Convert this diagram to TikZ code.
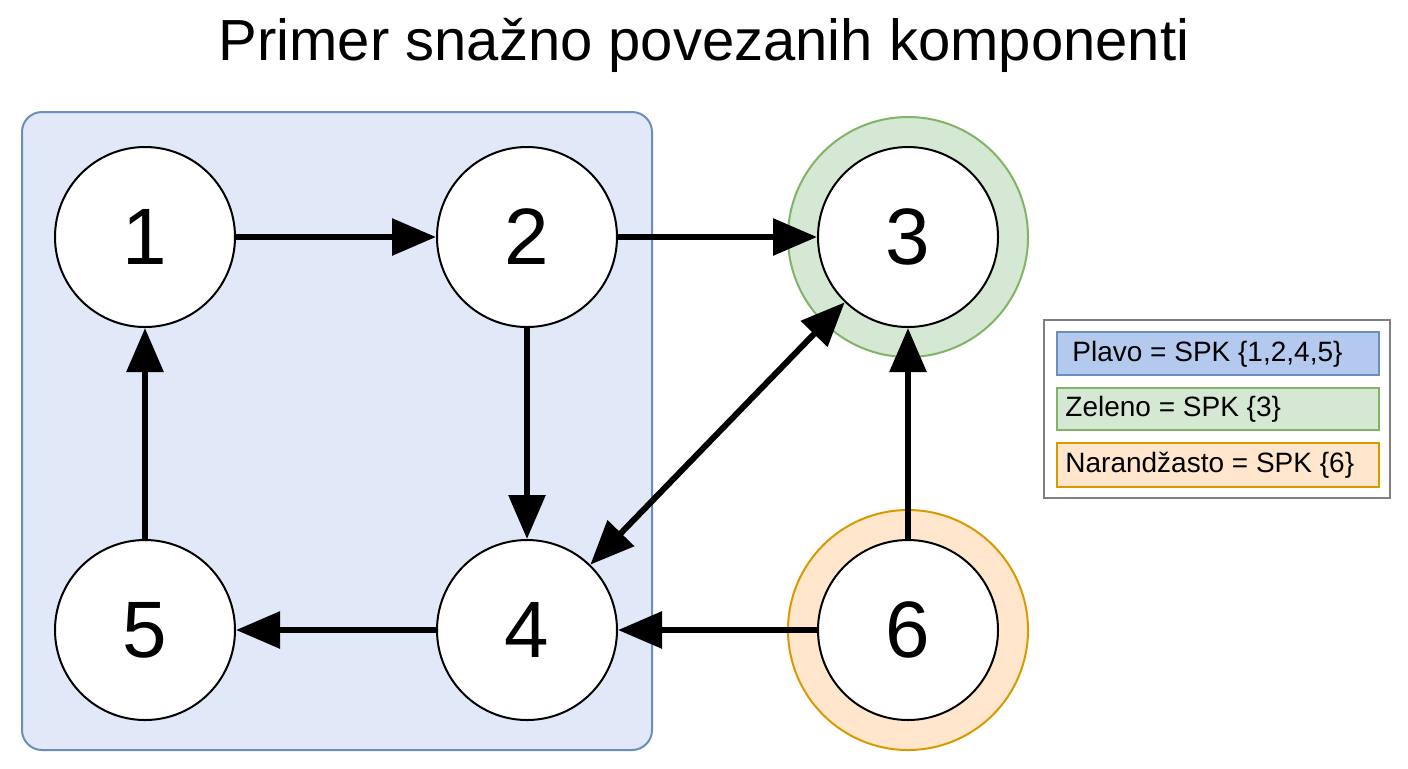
\documentclass[tikz,border=0pt]{standalone}
\usepackage{fontspec}
\setmainfont{Liberation Sans}
\usetikzlibrary{arrows.meta}
\definecolor{bfill}{HTML}{E1E9F8}
\definecolor{bdraw}{HTML}{6C8EBF}
\definecolor{gfill}{HTML}{D5E8D4}
\definecolor{gdraw}{HTML}{82B366}
\definecolor{ofill}{HTML}{FFE6CC}
\definecolor{odraw}{HTML}{D79B00}
\definecolor{lbfill}{HTML}{B3CAEE}
\begin{document}
\begin{tikzpicture}[x=0.5pt,y=-0.5pt,
  v/.style={circle,draw=black,line width=1pt,fill=white,minimum size=90pt,inner sep=0pt,font=\fontsize{40}{40}\selectfont},
  ring/.style={circle,line width=1pt,minimum size=120pt,inner sep=0pt},
  e/.style={line width=3pt,-{Triangle[length=22pt,width=18pt]}},
  lg/.style={draw,line width=0.6pt,minimum height=21pt,inner sep=0pt,font=\fontsize{14}{14}\selectfont}]
\useasboundingbox (0,0) rectangle (1408,768);
\fill[white] (0,0) rectangle (1408,768);
\node[font=\fontsize{29}{29}\selectfont] (title) at (704,45) {Primer snažno povezanih komponenti};
\draw[bdraw,fill=bfill,line width=1pt,rounded corners=10pt] (22,112) rectangle (652,750);
\node[ring,draw=gdraw,fill=gfill] (g3) at (908,237) {};
\node[ring,draw=odraw,fill=ofill] (o6) at (908,630) {};
\node[v] (n1) at (145,237) {1};
\node[v] (n2) at (527,237) {2};
\node[v] (n3) at (908,237) {3};
\node[v] (n4) at (527,630) {4};
\node[v] (n5) at (145,630) {5};
\node[v] (n6) at (908,630) {6};
\draw[e] (n1) -- (n2);
\draw[e] (n2) -- (n3);
\draw[e] (n2) -- (n4);
\draw[e] (n4) -- (n5);
\draw[e] (n5) -- (n1);
\draw[e] (n6) -- (n4);
\draw[e] (n6) -- (n3);
\draw[line width=3pt,{Triangle[length=22pt,width=18pt]}-{Triangle[length=22pt,width=18pt]}] (n4) -- (n3);
\draw[gray,line width=0.6pt,fill=white] (1044,320) rectangle (1390,498);
\draw[bdraw,fill=lbfill,line width=0.6pt] (1057,332) rectangle (1379,375);
\draw[gdraw,fill=gfill,line width=0.6pt] (1057,388) rectangle (1379,430);
\draw[odraw,fill=ofill,line width=0.6pt] (1057,443) rectangle (1379,487);
\node[font=\fontsize{14}{14}\selectfont,anchor=west,inner sep=0pt] (l1) at (1072,354) {Plavo = SPK \{1,2,4,5\}};
\node[font=\fontsize{14}{14}\selectfont,anchor=west,inner sep=0pt] (l2) at (1065,409) {Zeleno = SPK \{3\}};
\node[font=\fontsize{14}{14}\selectfont,anchor=west,inner sep=0pt] (l3) at (1065,465) {Narandžasto = SPK \{6\}};
\end{tikzpicture}
\end{document}
